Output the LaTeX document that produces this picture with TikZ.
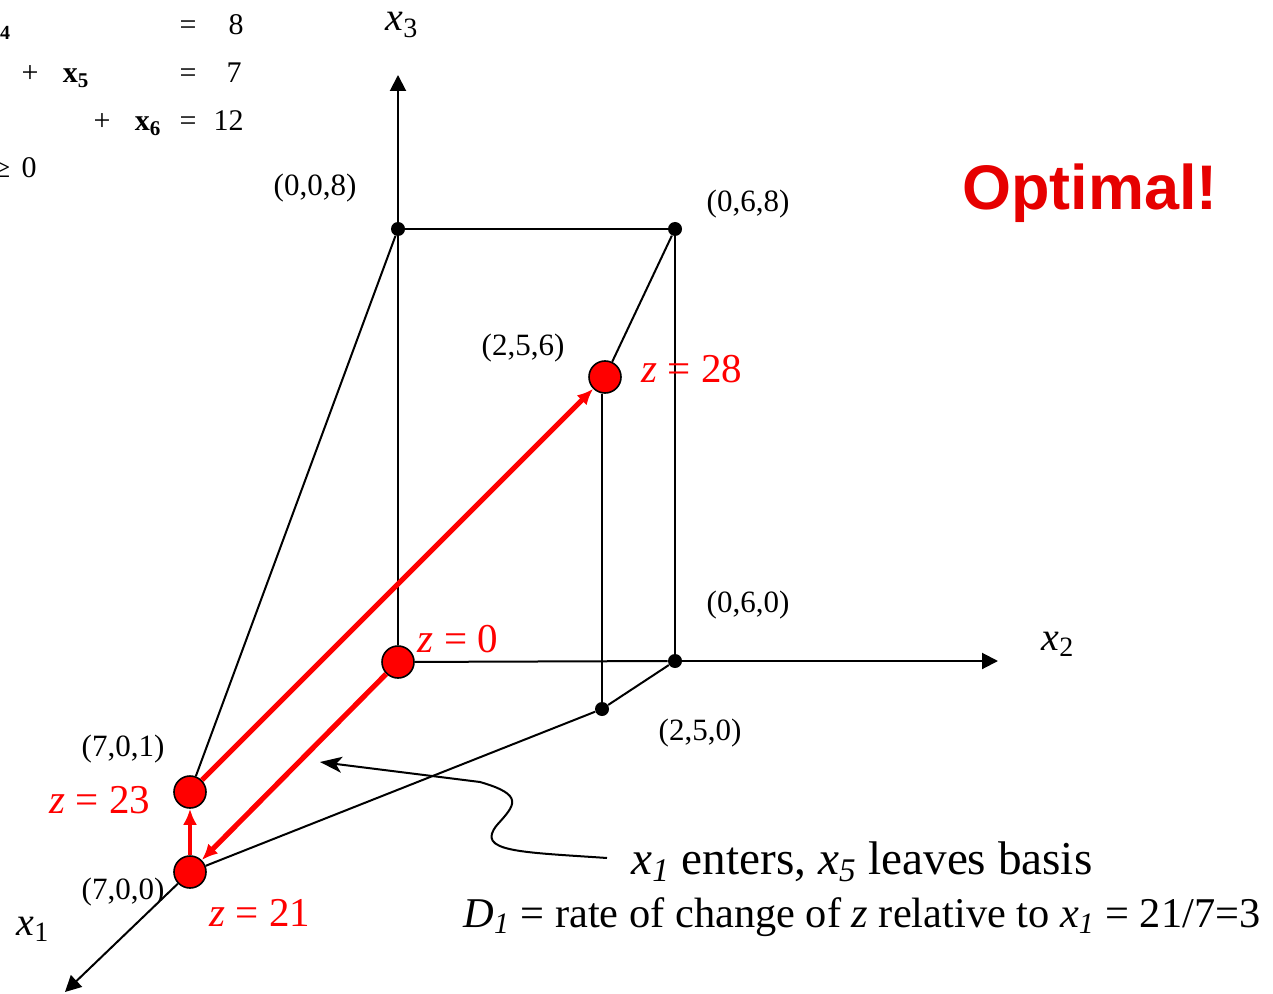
\documentclass[tikz,border=0pt]{standalone}
\usepackage{fontspec}
\setmainfont{Liberation Serif}
\newfontfamily\headfont{Liberation Sans}
\usetikzlibrary{arrows.meta}
\definecolor{optred}{RGB}{230,0,0}
\newcommand{\xax}[1]{\textit{x}\textsubscript{#1}}
\newcommand{\xit}[1]{\textit{x}\textsubscript{\textit{#1}}}

\begin{document}
\begin{tikzpicture}[x=0.5pt, y=-0.5pt,
    dot/.style={circle, fill=black, inner sep=0pt, minimum size=7pt},
    vertex/.style={circle, draw=black, line width=0.8pt, fill=red, inner sep=0pt, minimum size=16pt},
    coordlabel/.style={anchor=base, inner sep=0pt, font=\fontsize{15.5}{18}\selectfont},
    zlabel/.style={anchor=base, inner sep=0pt, text=red, font=\fontsize{20.5}{24}\selectfont},
    axislabel/.style={anchor=base, inner sep=0pt, font=\fontsize{20}{24}\selectfont},
    eqtext/.style={anchor=base, inner sep=0pt, font=\fontsize{15}{18}\selectfont},
    edge/.style={line width=1pt},
    axis/.style={line width=1pt, -{Triangle[length=8pt,width=8pt]}},
    move/.style={red, line width=2.6pt, -{Latex[length=8pt,width=7pt]}}]

    \useasboundingbox (0,0) rectangle (1273,994);
    \clip (0,0) rectangle (1273,994);

    % Constraints (cut off at the left)
    \node[eqtext, font=\fontsize{10}{12}\bfseries] (eq4) at (5,40) {4};
    \node[eqtext] (eqa) at (188,35) {=};
    \node[eqtext, anchor=base east] (eqab) at (244,35) {8};
    \node[eqtext] (eqp5) at (30,83) {+};
    \node[eqtext] (eqx5) at (76,83) {\textbf{x\textsubscript{5}}};
    \node[eqtext] (eqb) at (188,83) {=};
    \node[eqtext, anchor=base east] (eqbb) at (242,83) {7};
    \node[eqtext] (eqp6) at (102,131) {+};
    \node[eqtext] (eqx6) at (148,131) {\textbf{x\textsubscript{6}}};
    \node[eqtext] (eqc) at (188,131) {=};
    \node[eqtext, anchor=base east] (eqcb) at (244,131) {12};
    \node[eqtext] (eqd) at (2,178) {≥};
    \node[eqtext] (eqdb) at (29,178) {0};

    % Corner points
    \node[vertex] (O) at (398,662) {};
    \node[dot] (p008) at (398,229) {};
    \node[dot] (p068) at (675,229) {};
    \node[dot] (p060) at (675,661) {};
    \node[dot] (p250) at (602,709) {};
    \node[vertex] (v256) at (605,377) {};
    \node[vertex] (v701) at (190,792) {};
    \node[vertex] (v700) at (190,872) {};

    % Axis ends
    \coordinate (x3tip) at (398,75);
    \coordinate (x2tip) at (998,661);
    \coordinate (x1tip) at (65,992);

    % Axes
    \draw[edge] (O) -- (p008);
    \draw[axis] (p008) -- (x3tip);
    \draw[edge] (O) -- (p060);
    \draw[axis] (p060) -- (x2tip);
    \draw[axis] (v700) -- (x1tip);

    % Edges of the region
    \draw[edge] (p008) -- (p068);
    \draw[edge] (p008) -- (v701);
    \draw[edge] (p068) -- (v256);
    \draw[edge] (p068) -- (p060);
    \draw[edge] (p250) -- (p250 |- v256.south);
    \draw[edge] (p250) -- (p060);
    \draw[edge] (p250) -- (v700);

    % Simplex moves
    \draw[move] (O) -- (v700);
    \draw[move, line width=2pt] (v700) -- (v701);
    \draw[move] (v701) -- (v256);

    % Axis labels
    \node[axislabel] (x3) at (402,31) {\xax{3}};
    \node[axislabel] (x2) at (1058,650) {\xax{2}};
    \node[axislabel] (x1) at (33,935) {\xax{1}};

    % Point labels
    \node[coordlabel] (l008) at (315,196) {(0,0,8)};
    \node[coordlabel] (l068) at (748,212) {(0,6,8)};
    \node[coordlabel] (l256) at (523,356) {(2,5,6)};
    \node[coordlabel] (l060) at (748,612) {(0,6,0)};
    \node[coordlabel] (l250) at (700,740) {(2,5,0)};
    \node[coordlabel] (l701) at (123,756) {(7,0,1)};
    \node[coordlabel] (l700) at (123,899) {(7,0,0)};

    % Objective values
    \node[zlabel] (z28) at (692,382) {\textit{z} = 28};
    \node[zlabel] (z0) at (458,652) {\textit{z} = 0};
    \node[zlabel] (z23) at (100,813) {\textit{z} = 23};
    \node[zlabel] (z21) at (260,926) {\textit{z} = 21};

    % Remarks
    \node[anchor=base, inner sep=0pt, text=optred, font=\headfont\bfseries\fontsize{31.5}{36}\selectfont] (opt) at (1090,210) {Optimal!};
    \node[anchor=base, inner sep=0pt, font=\fontsize{23.6}{28}\selectfont] (enters) at (862,874) {\xit{1} enters, \xit{5} leaves basis};
    \node[anchor=base, inner sep=0pt, font=\fontsize{21.2}{26}\selectfont] (rate) at (862,927) {\textit{D}\textsubscript{\textit{1}} = rate of change of \textit{z} relative to \xit{1} = 21/7=3};

    \coordinate (anno) at (607,858);
    \coordinate (tgt) at (320,762);
    \draw[line width=1pt, -{Stealth[length=11pt,width=8pt,inset=3pt]}] (anno) .. controls (520,852) and (475,852) .. (497,825)
        .. controls (515,805) and (525,795) .. (480,782) -- (tgt);

\end{tikzpicture}
\end{document}
